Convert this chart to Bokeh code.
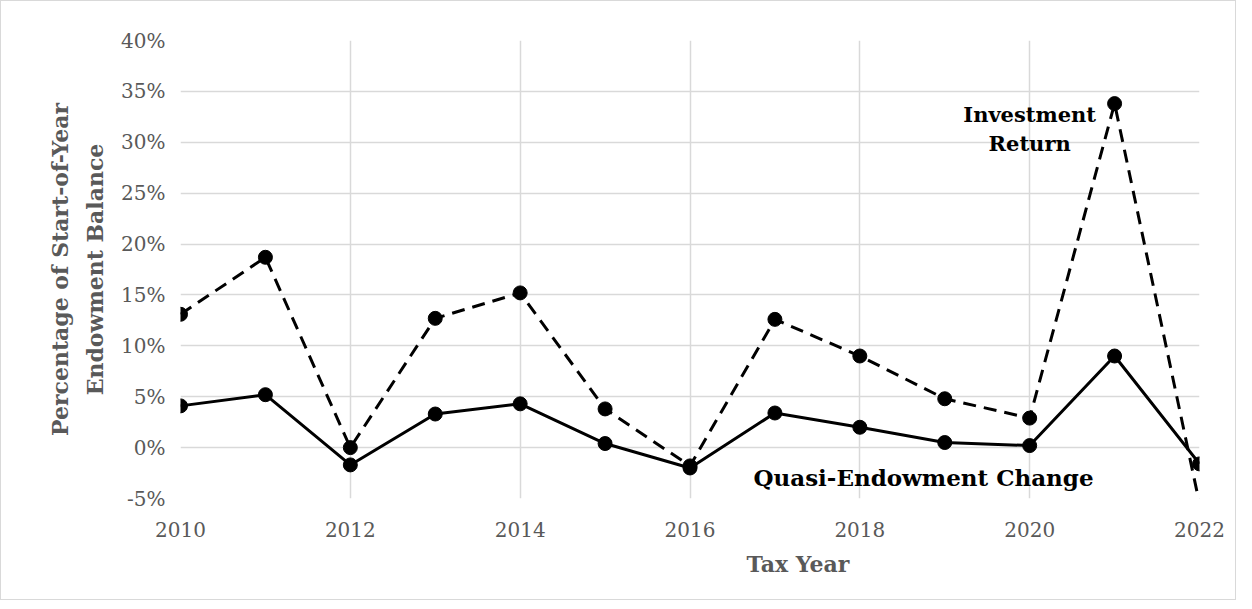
from bokeh.plotting import figure
from bokeh.models import (ColumnDataSource, Range1d, SingleIntervalTicker,
                          PrintfTickFormatter, Label, Title, CDSView, BooleanFilter)
from bokeh.embed import file_html
from bokeh.resources import INLINE

# ---- data (percent of start-of-year endowment balance) ----
years = [2010, 2011, 2012, 2013, 2014, 2015, 2016, 2017, 2018, 2019, 2020, 2021, 2022]
investment_return = [13.1, 18.7, 0.0, 12.7, 15.2, 3.8, -1.8, 12.6, 9.0, 4.8, 2.9, 33.8, -5.5]
quasi_endowment_change = [4.1, 5.2, -1.7, 3.3, 4.3, 0.4, -2.0, 3.4, 2.0, 0.5, 0.2, 9.0, -1.6]
y_min, y_max = -5, 40

FONT = "DejaVu Serif"
GRAY = "#595959"
GRID = "#d9d9d9"

src = ColumnDataSource(dict(year=years, inv=investment_return, qe=quasi_endowment_change))

p = figure(width=1236, height=600, output_backend="svg", toolbar_location=None,
           x_range=Range1d(years[0], years[-1]), y_range=Range1d(y_min, y_max),
           min_border_left=179, min_border_right=38, min_border_top=39, min_border_bottom=103)
p.styles = {"border": f"1px solid {GRID}", "box-sizing": "border-box"}
p.outline_line_color = None
p.background_fill_color = "white"

# axes
for ax in (p.xaxis[0], p.yaxis[0]):
    ax.axis_line_color = None
    ax.major_tick_line_color = None
    ax.minor_tick_line_color = None
    ax.major_label_text_font = FONT
    ax.major_label_text_font_size = "20px"
    ax.major_label_text_color = GRAY
    ax.axis_label_text_font = FONT
    ax.axis_label_text_font_size = "22px"
    ax.axis_label_text_font_style = "bold"
    ax.axis_label_text_color = GRAY

p.xaxis.ticker = SingleIntervalTicker(interval=2)
p.xaxis.major_label_standoff = 17

p.yaxis.ticker = SingleIntervalTicker(interval=5)
p.yaxis.formatter = PrintfTickFormatter(format="%d%%")
p.yaxis.major_label_standoff = 9
p.yaxis.axis_label = "Percentage of Start-of-Year\nEndowment Balance"
p.yaxis.axis_label_text_line_height = 1.35
p.yaxis.axis_label_standoff = 10

p.xgrid.ticker = SingleIntervalTicker(interval=2)
p.ygrid.ticker = SingleIntervalTicker(interval=5)
for g in (p.xgrid[0], p.ygrid[0]):
    g.grid_line_color = GRID
    g.grid_line_width = 1.5

# x-axis title (placed like the original, right of centre)
p.add_layout(Title(text="Tax Year", text_font=FONT, text_font_size="22px",
                   text_font_style="bold", text_color=GRAY, align="left",
                   offset=566, standoff=18), "below")

# series
p.line("year", "inv", source=src, line_color="black", line_width=3, line_dash="13 8")
p.line("year", "qe", source=src, line_color="black", line_width=3)

inv_view = CDSView(filter=BooleanFilter([v >= y_min for v in investment_return]))
p.scatter("year", "inv", source=src, view=inv_view, marker="circle", size=14,
          fill_color="black", line_color="black")
p.scatter("year", "qe", source=src, marker="circle", size=14,
          fill_color="black", line_color="black")

# annotations
p.add_layout(Label(x=2020.0, y=31.3, text="Investment\nReturn", text_font=FONT,
                   text_font_size="21px", text_font_style="bold", text_color="black",
                   text_align="center", text_baseline="middle", text_line_height=1.15))
p.add_layout(Label(x=2018.75, y=-2.95, text="Quasi-Endowment Change", text_font=FONT,
                   text_font_size="23px", text_font_style="bold", text_color="black",
                   text_align="center", text_baseline="middle"))

open("out.html", "w").write(file_html(p, INLINE))
